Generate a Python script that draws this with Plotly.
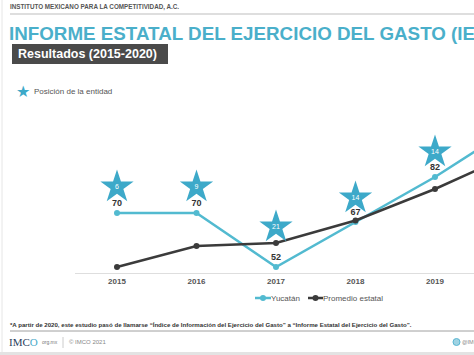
import plotly.graph_objects as go

# ---- data ----
years = [2015, 2016, 2017, 2018, 2019, 2020]
yucatan = [70, 70, 52, 67, 82, 99]
promedio = [52, 59, 60, 67.5, 78, 90]
labeled_years = [2015, 2016, 2017, 2018, 2019]
rank_years = [2015, 2016, 2017, 2018, 2019]
rank_pos = ["6", "9", "21", "14", "14"]
tick_labels = ["2015", "2016", "2017", "2018", "2019", "2020"]
series_names = ["Yucatán", "Promedio estatal"]

# ---- style ----
W, H = 474, 355
ML, MR, MT, MB = 75, 0, 105, 82
PW, PH = W - ML - MR, H - MT - MB
Y0, Y1 = 50, 106
UNITS_PER_PX = (Y1 - Y0) / PH
star_gap_px = [26, 26, 40, 24, 25]

CYAN = "#52BAD0"
STAR = "#3DA9C9"
TITLE = "#4AAFCA"
DARK = "#3b3b3b"
FONT = "Liberation Sans, Arial, sans-serif"


def px(x):
    return (x - ML) / PW


def py(y):
    return (H - MB - y) / PH


fig = go.Figure()

fig.add_trace(go.Scatter(
    x=years, y=yucatan, name=series_names[0], mode="lines+markers+text",
    line=dict(color=CYAN, width=2.5), marker=dict(size=6, color=CYAN),
    text=[f"<b>{v}</b>" if yr in labeled_years else "" for yr, v in zip(years, yucatan)],
    textposition="top center",
    textfont=dict(size=9, color="#333333", family=FONT), showlegend=False,
))
fig.add_trace(go.Scatter(
    x=years, y=promedio, name=series_names[1], mode="lines+markers",
    line=dict(color=DARK, width=2.5), marker=dict(size=6, color=DARK), showlegend=False,
))
star_y = [yucatan[years.index(yr)] + g * UNITS_PER_PX for yr, g in zip(rank_years, star_gap_px)]
fig.add_trace(go.Scatter(
    x=rank_years, y=star_y, mode="markers+text", showlegend=False,
    marker=dict(symbol="star", size=25, color=STAR, line=dict(width=0)),
    text=rank_pos, textposition="middle center",
    textfont=dict(size=7, color="white", family=FONT),
))

annotations = [
    dict(x=px(8), y=py(7), text="<b>INSTITUTO MEXICANO PARA LA COMPETITIVIDAD, A.C.</b>",
         font=dict(size=6.3, color="#555555", family=FONT), xanchor="left", yanchor="middle"),
    dict(x=px(7), y=py(33), text="<b>INFORME ESTATAL DEL EJERCICIO DEL GASTO (IEEG)</b>",
         font=dict(size=18.8, color=TITLE, family=FONT), xanchor="left", yanchor="middle"),
    dict(x=px(16), y=py(54), text="<b>Resultados (2015-2020)</b>",
         font=dict(size=12.5, color="white", family=FONT), xanchor="left", yanchor="middle"),
    dict(x=px(14), y=py(91), text="★",
         font=dict(size=16, color=STAR, family="DejaVu Sans"), xanchor="left", yanchor="middle"),
    dict(x=px(32), y=py(91), text="Posición de la entidad",
         font=dict(size=8, color="#555555", family=FONT), xanchor="left", yanchor="middle"),
    dict(x=px(8), y=py(324),
         text="<b>*A partir de 2020, este estudio pasó de llamarse “Índice de Información del Ejercicio del Gasto” a “Informe Estatal del Ejercicio del Gasto”.</b>",
         font=dict(size=6.1, color="#333333", family=FONT), xanchor="left", yanchor="middle"),
    dict(x=px(7), y=py(342), text="IMC<span style='color:#49A9C9'>O</span>",
         font=dict(size=11, color="#2b3e5c", family="Liberation Serif, serif"), xanchor="left", yanchor="middle"),
    dict(x=px(40), y=py(342), text="org.mx",
         font=dict(size=5, color="#777777", family=FONT), xanchor="left", yanchor="middle"),
    dict(x=px(67), y=py(342), text="© IMCO 2021",
         font=dict(size=6, color="#888888", family=FONT), xanchor="left", yanchor="middle"),
    dict(x=px(460), y=py(342), text="@IMCO",
         font=dict(size=5.5, color="#888888", family=FONT), xanchor="left", yanchor="middle"),
    # legend labels
    dict(x=px(269), y=py(298), text=series_names[0],
         font=dict(size=8, color="#555555", family=FONT), xanchor="left", yanchor="middle"),
    dict(x=px(321), y=py(298), text=series_names[1],
         font=dict(size=8, color="#555555", family=FONT), xanchor="left", yanchor="middle"),
]
for a in annotations:
    a.update(xref="paper", yref="paper", showarrow=False)

shapes = [
    dict(type="line", x0=px(10), x1=px(474), y0=py(14), y1=py(14), line=dict(color="#bdbdbd", width=1)),
    dict(type="rect", x0=px(12), x1=px(168), y0=py(44), y1=py(64), fillcolor="#4a4a4a", line=dict(width=0)),
    dict(type="line", x0=px(10), x1=px(474), y0=py(331), y1=py(331), line=dict(color="#a0a0a0", width=1)),
    dict(type="line", x0=px(63), x1=px(63), y0=py(337), y1=py(348), line=dict(color="#cccccc", width=1)),
    dict(type="circle", x0=px(453), x1=px(460), y0=py(338.5), y1=py(345.5),
         fillcolor="#9fd3e3", line=dict(color="#5bb6d2", width=1)),
    dict(type="rect", x0=px(0), x1=px(474), y0=py(352), y1=py(355), fillcolor="#e3e3e3", line=dict(width=0)),
    dict(type="line", x0=px(2), x1=px(2), y0=py(0), y1=py(352), line=dict(color="#e6e6e6", width=1)),
    # legend symbols
    dict(type="line", x0=px(255), x1=px(271), y0=py(298), y1=py(298), line=dict(color=CYAN, width=2.5)),
    dict(type="circle", x0=px(260), x1=px(266), y0=py(295), y1=py(301), fillcolor=CYAN, line=dict(width=0)),
    dict(type="line", x0=px(308), x1=px(323), y0=py(298), y1=py(298), line=dict(color=DARK, width=2.5)),
    dict(type="circle", x0=px(312.5), x1=px(318.5), y0=py(295), y1=py(301), fillcolor=DARK, line=dict(width=0)),
]
for s in shapes:
    s.update(xref="paper", yref="paper", layer="above")

fig.update_layout(
    width=W, height=H, margin=dict(l=ML, r=MR, t=MT, b=MB, autoexpand=False),
    paper_bgcolor="white", plot_bgcolor="white",
    font=dict(family=FONT),
    xaxis=dict(range=[2015 - (117 - ML) / 79.5, 2019 + 39 / 79.5],
               tickvals=years, ticktext=[f"<b>{t}</b>" for t in tick_labels],
               tickfont=dict(size=8, color="#555555"), showgrid=False, zeroline=False,
               showline=True, linecolor="#dedede", linewidth=1, ticks="", fixedrange=True,
               automargin=False),
    yaxis=dict(range=[Y0, Y1], visible=False, showgrid=False, zeroline=False, fixedrange=True),
    annotations=annotations, shapes=shapes, showlegend=False,
)

fig.write_html("out.html", config={"displayModeBar": False},
               post_script="document.body.style.margin='0';document.body.style.overflow='hidden';")
